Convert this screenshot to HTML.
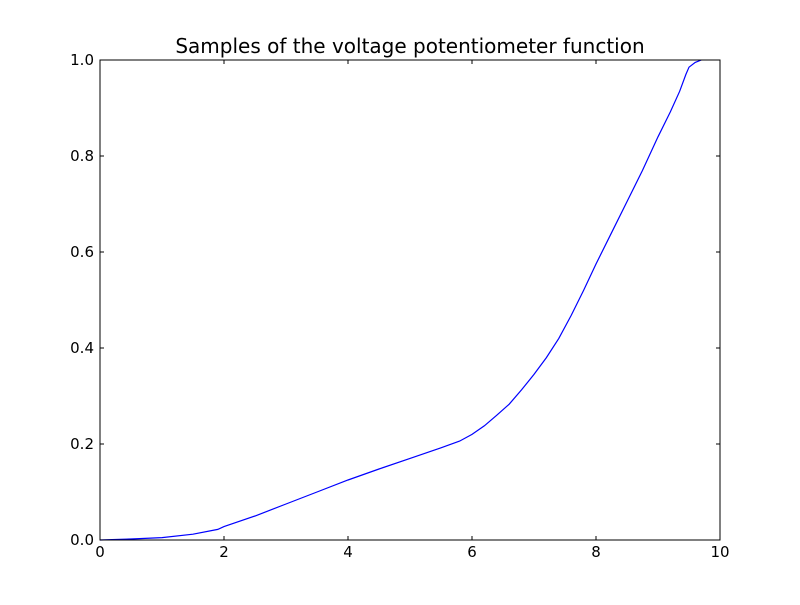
<!DOCTYPE html>
<html><head><meta charset="utf-8"><style>
body{margin:0;background:#fff;}
text{font-family:"DejaVu Sans","Liberation Sans",sans-serif;}
</style></head><body>
<svg id="chart" width="800" height="600" xmlns="http://www.w3.org/2000/svg">
<rect width="800" height="600" fill="#fff"/>
<text x="410" y="53" font-size="20" text-anchor="middle">Samples of the voltage potentiometer function</text>
<g id="ticks"></g>
<path id="line" fill="none" stroke="#0000ff" stroke-width="1.2"/>
<rect x="100" y="60" width="620" height="480" fill="none" stroke="#000" stroke-width="1"/>
</svg>
<script>
const xValues=[0,0.5,1,1.5,1.9,2,2.5,3,3.5,4,4.5,5,5.5,5.8,6,6.2,6.4,6.6,6.8,7,7.2,7.4,7.6,7.8,8,8.25,8.5,8.75,9,9.2,9.35,9.45,9.5,9.6,9.7];
const yValues=[0,0.002,0.005,0.012,0.022,0.028,0.05,0.075,0.1,0.125,0.148,0.17,0.192,0.206,0.22,0.238,0.26,0.283,0.313,0.345,0.38,0.42,0.468,0.52,0.575,0.64,0.705,0.77,0.84,0.892,0.935,0.97,0.985,0.995,1.0];
const xTicks=[0,2,4,6,8,10];
const yTicks=[0,0.2,0.4,0.6,0.8,1.0];
const sx=v=>100+v/10*620, sy=v=>540-v*480;
const ns="http://www.w3.org/2000/svg";
const g=document.getElementById('ticks');
function mk(tag,attrs){const e=document.createElementNS(ns,tag);for(const k in attrs)e.setAttribute(k,attrs[k]);return e;}
xTicks.forEach(t=>{
  const x=sx(t);
  const l1=mk('line',{x1:x,x2:x,y1:540,y2:536,stroke:'#000'});
  
  
  g.appendChild(l1);
  const l2=mk('line',{x1:x,x2:x,y1:60,y2:64,stroke:'#000'});
  
  
  g.appendChild(l2);
  const tx=mk('text',{x:x,y:557,'font-size':15,'text-anchor':'middle'});
  tx.textContent=String(t);
  
  
  g.appendChild(tx);
});
yTicks.forEach(t=>{
  const y=sy(t);
  const l1=mk('line',{x1:100,x2:104,y1:y,y2:y,stroke:'#000'});
  
  
  g.appendChild(l1);
  const l2=mk('line',{x1:716,x2:720,y1:y,y2:y,stroke:'#000'});
  
  
  g.appendChild(l2);
  const tx=mk('text',{x:94,y:y+5,'font-size':15,'text-anchor':'end'});
  tx.textContent=t.toFixed(1);
  
  
  g.appendChild(tx);
});
document.getElementById('line').setAttribute('d',xValues.map((x,i)=>(i?'L':'M')+sx(x).toFixed(1)+' '+sy(yValues[i]).toFixed(1)).join(' '));
</script>
</body></html>
